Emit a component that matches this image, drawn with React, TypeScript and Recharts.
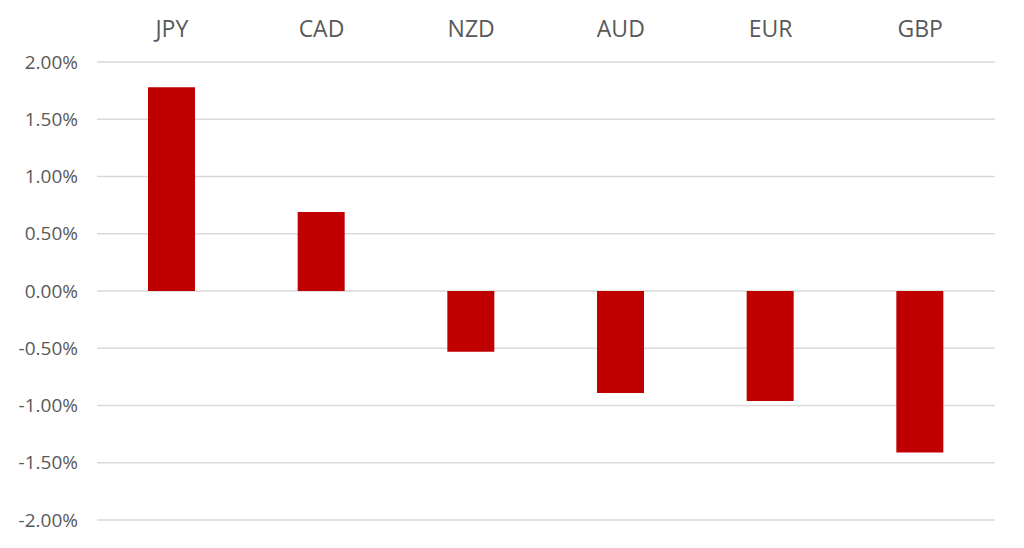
import { Bar, BarChart, CartesianGrid, XAxis, YAxis } from 'recharts'

const currencies = ['JPY', 'CAD', 'NZD', 'AUD', 'EUR', 'GBP']
const changes = [1.78, 0.69, -0.53, -0.89, -0.96, -1.41]
const yTicks = [-2, -1.5, -1, -0.5, 0, 0.5, 1, 1.5, 2]

const rows = currencies.map((label, i) => ({ label, change: changes[i] }))

const tickStyle = { fontSize: 19, fill: '#595959', fontFamily: '"Open Sans", sans-serif' }

export default function App() {
  return (
    <div style={{ position: 'absolute', left: 0, top: 0, width: 1024, height: 548, background: '#fff' }}>
      <BarChart width={1024} height={548} data={rows} margin={{ top: 0, right: 29, left: 0, bottom: 28 }}>
        <CartesianGrid vertical={false} stroke="#d9d9d9" strokeWidth={1.3} />
        <XAxis
          dataKey="label"
          orientation="top"
          height={62}
          axisLine={false}
          tickLine={false}
          tickMargin={19}
          tick={{ ...tickStyle, fontSize: 23 }}
        />
        <YAxis
          domain={[-2, 2]}
          ticks={yTicks}
          width={97}
          axisLine={false}
          tickLine={false}
          tickMargin={13}
          tick={tickStyle}
          tickFormatter={(v: number) => `${v.toFixed(2)}%`}
        />
        <Bar dataKey="change" fill="#C00000" barSize={47} isAnimationActive={false} />
      </BarChart>
    </div>
  )
}
